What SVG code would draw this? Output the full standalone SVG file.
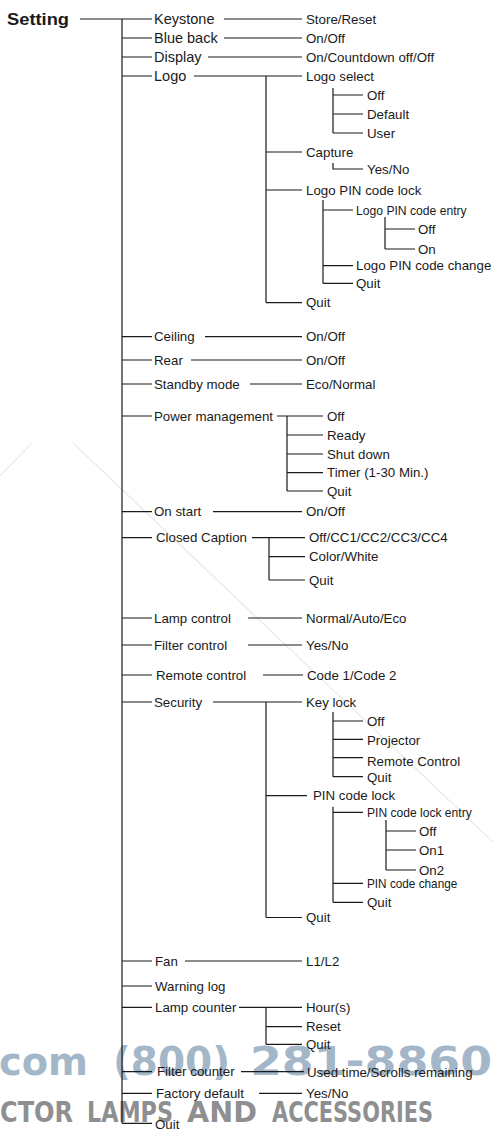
<svg xmlns="http://www.w3.org/2000/svg" width="493" height="1129" viewBox="0 0 493 1129">
<style>
text{font-family:"Liberation Sans",Arial,sans-serif;font-size:13.3px;fill:#1a1a1a}
.big{font-size:14.5px}
.title{font-weight:bold;font-size:17px}
.wm{font-family:"DejaVu Sans",Verdana,sans-serif;font-weight:bold}
.ph{font-size:39px;fill:#a3b7c9}
.ac{font-size:27.5px;fill:#8e8f90}
#connectors path{fill:none;stroke:#1a1a1a;stroke-width:1.2}
</style>
<rect width="493" height="1129" fill="#ffffff"/>
<g id="watermark">
<path d="M0 476 L32 443 M73 443 L493 842" fill="none" stroke="#ededed" stroke-width="1.5"/>
<text class="wm ph" x="-1" y="1075" textLength="89" lengthAdjust="spacingAndGlyphs">com</text>
<text class="wm ph" x="113" y="1075" textLength="117" lengthAdjust="spacingAndGlyphs">(800)</text>
<text class="wm ph" x="250" y="1075" textLength="242" lengthAdjust="spacingAndGlyphs">281-8860</text>
<text class="wm ac" x="0" y="1121.7" textLength="73" lengthAdjust="spacingAndGlyphs">CTOR</text>
<text class="wm ac" x="87" y="1121.7" textLength="86" lengthAdjust="spacingAndGlyphs">LAMPS</text>
<text class="wm ac" x="187" y="1121.7" textLength="70" lengthAdjust="spacingAndGlyphs">AND</text>
<text class="wm ac" x="272" y="1121.7" textLength="161" lengthAdjust="spacingAndGlyphs">ACCESSORIES</text>
</g>
<g id="connectors">
<path d="M122 19 V1123.3 M80 19 H122
M122 19 H152 M122 38 H152 M122 57 H152 M122 76 H152 M122 336.7 H152 M122 360 H152 M122 384 H152 M122 416 H152 M122 511.7 H152 M122 537.7 H152 M122 618 H152 M122 645 H152 M122 675 H152 M122 702 H152 M122 961 H152 M122 986 H152 M122 1007.3 H152 M122 1071.7 H152 M122 1093.3 H152 M122 1123.3 H152
M224 19 H302 M224 38 H302 M208 57 H302 M194 76 H302
M266 76 V302.7
M333 88 V133 M333 95 H363 M333 114 H363 M333 133 H363
M266 152 H302 M333 163 V169 H363
M266 190 H302 M323 200 V283.3 M323 210 H353 M323 265.7 H353 M323 283.3 H353
M385 217 V249 M385 229 H415 M385 249 H415
M266 302.7 H302
M205 336.7 H302 M191 360 H302 M250 384 H302
M277 416 H323 M287 416 V491 M287 435 H323 M287 454 H323 M287 472.7 H323 M287 491 H323
M213 511.7 H302
M252 537.7 H305 M269 537.7 V580 M269 556.7 H305 M269 580 H305
M248 618 H302 M248 645 H302 M263 675 H303
M213 702 H302 M266 702 V917.5
M333 712 V776.7 M333 721 H363 M333 739.3 H363 M333 757.7 H363 M333 776.7 H363
M266 795.7 H307 M333 806.7 V902.3 M333 812.3 H363 M333 883.3 H363 M333 902.3 H363
M386 820 V870 M386 831 H416 M386 850 H416 M386 870 H416
M266 917.5 H302
M185 961 H302
M239 1007.3 H302 M266 1007.3 V1044.3 M266 1026.7 H302 M266 1044.3 H302
M241 1071.7 H304 M259 1093.3 H302"/>
</g>
<g id="setting"><text class="title" x="7" y="24.5" textLength="62" lengthAdjust="spacingAndGlyphs">Setting</text></g>
<g id="keystone"><text class="big" x="154" y="23.5">Keystone</text><text x="306" y="23.5">Store/Reset</text></g>
<g id="blue-back"><text class="big" x="154" y="42.8">Blue back</text><text x="306" y="42.5">On/Off</text></g>
<g id="display"><text class="big" x="154" y="61.8">Display</text><text x="306" y="61.5">On/Countdown off/Off</text></g>
<g id="logo"><text class="big" x="154" y="80.8">Logo</text>
<text x="306" y="80.5">Logo select</text>
<text x="367" y="99.5">Off</text><text x="367" y="118.5">Default</text><text x="367" y="137.5">User</text>
<text x="306" y="156.5">Capture</text><text x="367" y="173.5">Yes/No</text>
<text x="306" y="194.5">Logo PIN code lock</text>
<text x="356" y="214.5" textLength="110.7" lengthAdjust="spacingAndGlyphs">Logo PIN code entry</text>
<text x="418" y="233.5">Off</text><text x="418" y="253.5">On</text>
<text x="356" y="270.2">Logo PIN code change</text>
<text x="356" y="287.8">Quit</text>
<text x="306" y="307.2">Quit</text></g>
<g id="ceiling"><text x="154" y="341.2">Ceiling</text><text x="306" y="341.2">On/Off</text></g>
<g id="rear"><text x="154" y="364.5">Rear</text><text x="306" y="364.5">On/Off</text></g>
<g id="standby-mode"><text x="154" y="388.5">Standby mode</text><text x="306" y="388.5">Eco/Normal</text></g>
<g id="power-management"><text x="154" y="420.5">Power management</text>
<text x="327" y="420.5">Off</text><text x="327" y="439.5">Ready</text><text x="327" y="458.5">Shut down</text><text x="327" y="477.2">Timer (1-30 Min.)</text><text x="327" y="495.5">Quit</text></g>
<g id="on-start"><text x="154" y="516.2">On start</text><text x="306" y="516.2">On/Off</text></g>
<g id="closed-caption"><text x="156" y="542.4">Closed Caption</text>
<text x="309" y="542.4">Off/CC1/CC2/CC3/CC4</text><text x="309" y="561.4">Color/White</text><text x="309" y="584.8">Quit</text></g>
<g id="lamp-control"><text x="154" y="623">Lamp control</text><text x="306" y="622.5">Normal/Auto/Eco</text></g>
<g id="filter-control"><text x="154" y="650">Filter control</text><text x="306" y="649.5">Yes/No</text></g>
<g id="remote-control"><text x="156" y="680">Remote control</text><text x="307" y="679.7">Code 1/Code 2</text></g>
<g id="security"><text x="154" y="706.5">Security</text>
<text x="306" y="706.5">Key lock</text>
<text x="367" y="725.5">Off</text><text x="367" y="744.5">Projector</text><text x="367" y="766">Remote Control</text><text x="367" y="781.5">Quit</text>
<text x="313" y="800.2">PIN code lock</text>
<text x="367" y="816.8" textLength="104.7" lengthAdjust="spacingAndGlyphs">PIN code lock entry</text>
<text x="419" y="835.5">Off</text><text x="419" y="854.7">On1</text><text x="419" y="874.5">On2</text>
<text x="367" y="887.8" textLength="90.3" lengthAdjust="spacingAndGlyphs">PIN code change</text>
<text x="367" y="906.8">Quit</text>
<text x="306" y="922">Quit</text></g>
<g id="fan"><text x="155" y="965.5">Fan</text><text x="306" y="965.5">L1/L2</text></g>
<g id="warning-log"><text x="155" y="990.5">Warning log</text></g>
<g id="lamp-counter"><text x="155" y="1011.8">Lamp counter</text>
<text x="306" y="1011.8">Hour(s)</text><text x="306" y="1031.2">Reset</text><text x="306" y="1048.8">Quit</text></g>
<g id="filter-counter"><text x="157" y="1075.5">Filter counter</text><text x="307" y="1076.5">Used time/Scrolls remaining</text></g>
<g id="factory-default"><text x="156" y="1097.5">Factory default</text><text x="306" y="1098">Yes/No</text></g>
<g id="quit"><text x="155" y="1128.5">Quit</text></g>
</svg>
